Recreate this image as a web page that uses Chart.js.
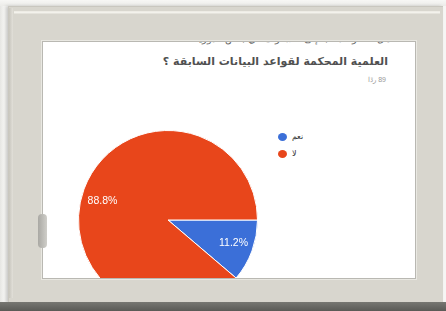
<!DOCTYPE html>
<html lang="ar">
<head>
<meta charset="utf-8">
<script src="https://cdn.jsdelivr.net/npm/chart.js@4/dist/chart.umd.min.js"></script>
<style>
  html,body{margin:0;padding:0;}
  body{width:446px;height:311px;position:relative;overflow:hidden;background:linear-gradient(90deg,#e6e6e3 0,#f4f4f2 4px,#f6f6f4 100%);font-family:"Liberation Sans",Arial,sans-serif;}
  #topstrip{position:absolute;left:0;top:0;width:446px;height:6px;background:linear-gradient(#f7f7f5,#ecece9);}
  #frame{position:absolute;left:8px;top:6px;width:435px;height:297px;background:#d8d6ce;
    box-shadow:-2px 0 3px rgba(0,0,0,0.18), inset 1px 1px 0 #c9c7bf;}
  #bevel{position:absolute;left:14px;top:11px;width:426px;height:3px;background:linear-gradient(#ebe9e2,#f3f2ec,#dedcd4);}
  #bevelL{position:absolute;left:9px;top:8px;width:4px;height:290px;background:linear-gradient(90deg,#c8c6be,#e2e0d9);}
  #bottomband{position:absolute;left:0;top:302px;width:446px;height:9px;background:linear-gradient(#777772,#5a5a56);}
  #panel{position:absolute;left:43px;top:42px;width:372px;height:236px;background:#fff;overflow:hidden;
    box-shadow:0 0 0 1px #b9b8b2, 0 0 0 2px #e9e8e2;}
  #panelshadowL{position:absolute;left:41px;top:42px;width:2px;height:236px;background:#8e8d88;}
  #panelshadowT{position:absolute;left:43px;top:41px;width:372px;height:2px;background:#8f8e89;}
  #chartwrap{position:absolute;left:0;top:0;width:250px;height:356px;}
  #title0{position:absolute;right:25px;top:-9px;font-size:10px;color:#666;white-space:nowrap;direction:rtl;}
  #title{position:absolute;right:27px;top:13px;font-size:11px;font-weight:bold;color:#505050;white-space:nowrap;direction:rtl;font-family:"DejaVu Sans","Noto Sans",sans-serif;}
  #sub{position:absolute;right:29px;top:34px;font-size:7px;color:#999;white-space:nowrap;direction:rtl;}
  #legend{position:absolute;left:235px;top:86px;font-size:8px;color:#333;}
  .li{display:flex;align-items:center;height:17px;}
  .dot{width:9px;height:8px;border-radius:50%;margin-right:5px;}
  #knob{position:absolute;left:38px;top:214px;width:9px;height:34px;border-radius:4px;background:linear-gradient(90deg,#a9a8a3,#cfcec9);}
</style>
</head>
<body>
<div id="topstrip"></div>
<div id="frame"></div>
<div id="bevelL"></div>
<div id="bevel"></div>
<div id="bottomband"></div>
<div id="panelshadowT"></div>
<div id="panelshadowL"></div>
<div id="panel">
  <div id="title0">هل تفتقر المكتبة إلى الاشتراك في بعض الدوريات</div>
  <div id="title">العلمية المحكمة لقواعد البيانات السابقة ؟</div>
  <div id="sub">89 ردًا</div>
  <div id="legend"></div>
  <div id="chartwrap"><canvas id="c" width="250" height="356"></canvas></div>
</div>
<div id="knob"></div>
<script>
const categories = ["نعم", "لا"];
const responses = [10, 79];
const sliceColors = ["#3b6fd8", "#e8461b"];

const total = responses.reduce((a, b) => a + b, 0);

// HTML legend built from the arrays
const legend = document.getElementById('legend');
categories.forEach((cat, i) => {
  const row = document.createElement('div');
  row.className = 'li';
  const d = document.createElement('span');
  d.className = 'dot';
  d.style.background = sliceColors[i];
  const t = document.createElement('span');
  t.textContent = cat;
  row.appendChild(d); row.appendChild(t);
  legend.appendChild(row);
});

const pctLabels = {
  id: 'pctLabels',
  afterDatasetsDraw(chart) {
    const ctx = chart.ctx;
    const meta = chart.getDatasetMeta(0);
    ctx.save();
    ctx.fillStyle = '#ffffff';
    ctx.font = '10.5px "Liberation Sans", Arial, sans-serif';
    ctx.textAlign = 'center';
    ctx.textBaseline = 'middle';
    meta.data.forEach((arc, i) => {
      const p = arc.getProps(['x', 'y', 'startAngle', 'endAngle', 'outerRadius'], true);
      const mid = (p.startAngle + p.endAngle) / 2;
      const r = p.outerRadius * 0.78;
      const pct = (responses[i] / total * 100).toFixed(1) + '%';
      const dy = i === 1 ? 5 : -1;
      ctx.fillText(pct, p.x + Math.cos(mid) * r, p.y + Math.sin(mid) * r + dy);
    });
    ctx.restore();
  }
};

new Chart(document.getElementById('c'), {
  type: 'pie',
  data: {
    labels: categories,
    datasets: [{
      data: responses,
      backgroundColor: sliceColors,
      borderColor: '#ffffff',
      borderWidth: 1
    }]
  },
  options: {
    responsive: false,
    animation: false,
    rotation: 90,
    layout: { padding: { left: 35, right: 35, top: 88, bottom: 88 } },
    plugins: { legend: { display: false }, tooltip: { enabled: false } }
  },
  plugins: [pctLabels]
});
</script>
</body>
</html>
